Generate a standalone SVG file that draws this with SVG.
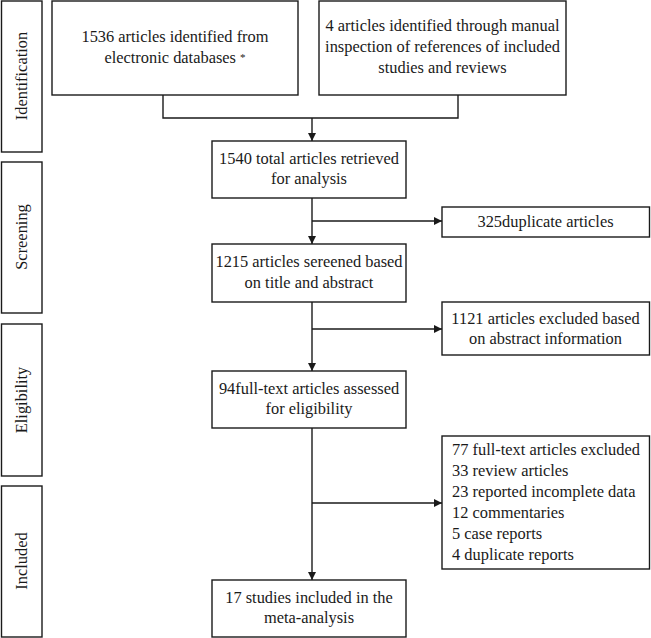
<svg xmlns="http://www.w3.org/2000/svg" width="651" height="638" viewBox="0 0 651 638">
<style>
.b{fill:#fff;stroke:#1a1a1a;stroke-width:1.4}
.t{font-family:'Liberation Serif','Times New Roman',serif;font-size:16.4px;fill:#1a1a1a}
.c{text-anchor:middle}
.l{fill:none;stroke:#1a1a1a;stroke-width:1.4}
</style>
<defs>
<marker id="ah" viewBox="0 0 10 10" refX="10" refY="5" markerWidth="8" markerHeight="8" markerUnits="userSpaceOnUse" orient="auto">
<path d="M0,0 L10,5 L0,10 Z" fill="#1a1a1a"/>
</marker>
</defs>
<rect width="651" height="638" fill="#fff"/>
<g id="stage-identification"><rect class="b" x="1.5" y="1" width="40.5" height="151"/><text class="t c" transform="translate(27,76) rotate(-90)">Identification</text></g>
<g id="stage-screening"><rect class="b" x="1.5" y="162" width="40.5" height="151"/><text class="t c" transform="translate(27,237) rotate(-90)">Screening</text></g>
<g id="stage-eligibility"><rect class="b" x="1.5" y="324" width="40.5" height="152"/><text class="t c" transform="translate(27,400) rotate(-90)">Eligibility</text></g>
<g id="stage-included"><rect class="b" x="1.5" y="486" width="40.5" height="151"/><text class="t c" transform="translate(27,561) rotate(-90)">Included</text></g>
<g id="connectors">
<path class="l" d="M163,95 V118 H458 V95"/>
<path class="l" d="M312,118 V141" marker-end="url(#ah)"/>
<path class="l" d="M312,198 V244" marker-end="url(#ah)"/>
<path class="l" d="M312,221 H442" marker-end="url(#ah)"/>
<path class="l" d="M312,302 V371" marker-end="url(#ah)"/>
<path class="l" d="M312,329 H442" marker-end="url(#ah)"/>
<path class="l" d="M312,428 V580" marker-end="url(#ah)"/>
<path class="l" d="M312,503 H442" marker-end="url(#ah)"/>
</g>
<g id="n1536"><rect class="b" x="52" y="1" width="246" height="94"/><text class="t c" x="175" y="42">1536 articles identified from</text><text class="t c" x="175" y="63">electronic databases <tspan font-size="11" dy="-2">*</tspan></text></g>
<g id="n4"><rect class="b" x="319" y="1" width="247" height="94"/><text class="t c" x="442.5" y="31">4 articles identified through manual</text><text class="t c" x="442.5" y="52">inspection of references of included</text><text class="t c" x="442.5" y="73">studies and reviews</text></g>
<g id="n1540"><rect class="b" x="212" y="141" width="194" height="57"/><text class="t c" x="309" y="164">1540 total articles retrieved</text><text class="t c" x="309" y="184">for analysis</text></g>
<g id="n325"><rect class="b" x="442" y="207" width="207.5" height="30"/><text class="t c" x="545.5" y="227">325duplicate articles</text></g>
<g id="n1215"><rect class="b" x="212" y="244" width="194" height="58"/><text class="t c" x="309" y="267">1215 articles sereened based</text><text class="t c" x="309" y="288">on title and abstract</text></g>
<g id="n1121"><rect class="b" x="442" y="302" width="207.5" height="53"/><text class="t c" x="545.5" y="324">1121 articles excluded based</text><text class="t c" x="545.5" y="344">on abstract information</text></g>
<g id="n94"><rect class="b" x="212" y="371" width="194" height="57"/><text class="t c" x="309" y="394">94full-text articles assessed</text><text class="t c" x="309" y="414">for eligibility</text></g>
<g id="n77"><rect class="b" x="442" y="436" width="207.5" height="133"/><text class="t" x="452" y="455">77 full-text articles excluded</text><text class="t" x="452" y="476">33 review articles</text><text class="t" x="452" y="497">23 reported incomplete data</text><text class="t" x="452" y="518">12 commentaries</text><text class="t" x="452" y="539">5 case reports</text><text class="t" x="452" y="560">4 duplicate reports</text></g>
<g id="n17"><rect class="b" x="212" y="580" width="194" height="57"/><text class="t c" x="309" y="603">17 studies included in the</text><text class="t c" x="309" y="623">meta-analysis</text></g>
</svg>
